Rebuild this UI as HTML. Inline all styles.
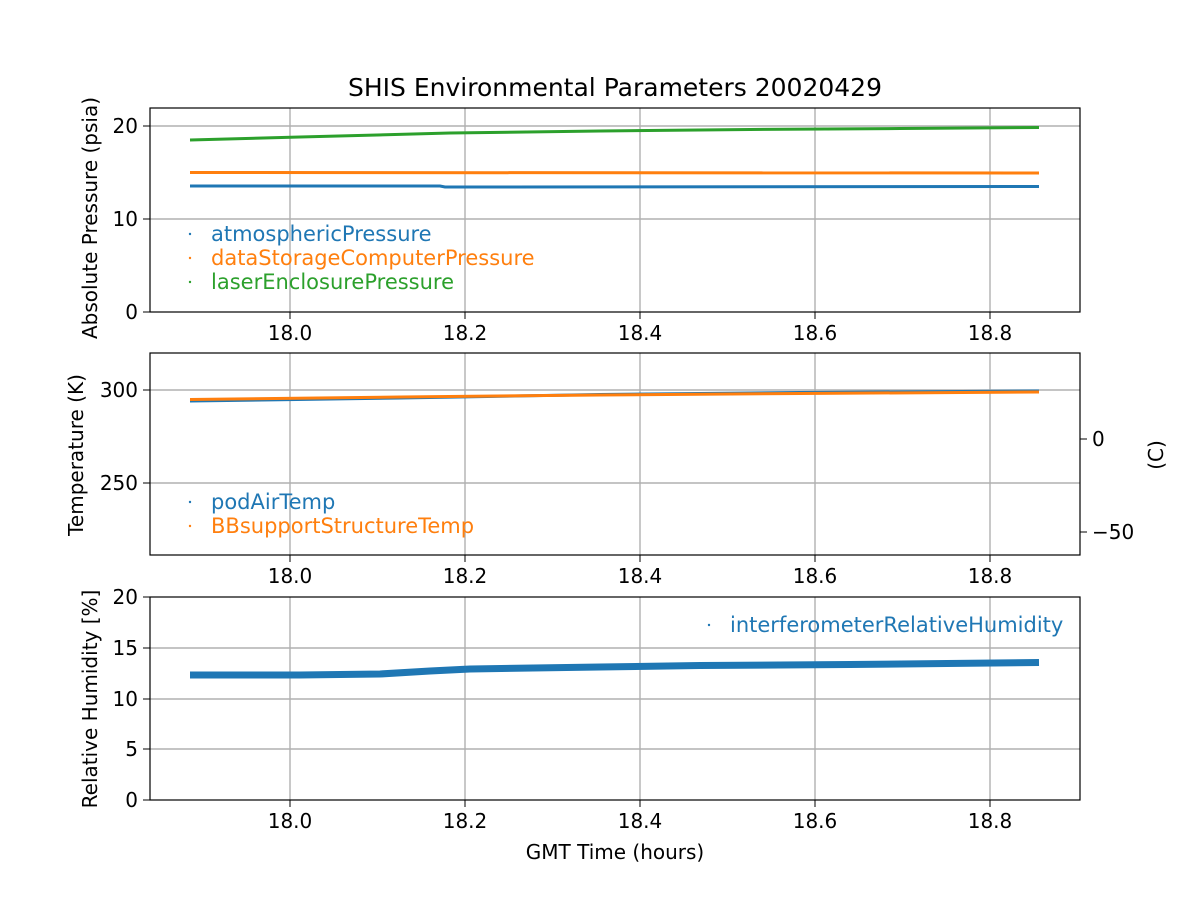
<!DOCTYPE html>
<html><head><meta charset="utf-8"><style>body{margin:0;background:#fff}svg{display:block}text{font-family:"DejaVu Sans","Liberation Sans",sans-serif;fill:#000}</style></head>
<body>
<svg width="1200" height="900" viewBox="0 0 1200 900" xmlns="http://www.w3.org/2000/svg">
<rect width="1200" height="900" fill="#fff"/>
<text x="615" y="96" font-size="25" text-anchor="middle">SHIS Environmental Parameters 20020429</text>

<!-- Panel 1 -->
<g stroke="#b0b0b0" stroke-width="1.4">
<line x1="290" y1="108" x2="290" y2="312"/><line x1="465" y1="108" x2="465" y2="312"/><line x1="640" y1="108" x2="640" y2="312"/><line x1="815" y1="108" x2="815" y2="312"/><line x1="990" y1="108" x2="990" y2="312"/>
<line x1="150" y1="126" x2="1080" y2="126"/><line x1="150" y1="219" x2="1080" y2="219"/>
</g>
<polyline points="190,140 300,137 450,133 600,131 750,129.5 900,128.5 1039,127.5" fill="none" stroke="#2ca02c" stroke-width="3"/>
<polyline points="190,172.5 1039,173" fill="none" stroke="#ff7f0e" stroke-width="3"/>
<polyline points="190,186 440,186 445,187 1039,186.5" fill="none" stroke="#1f77b4" stroke-width="3"/>
<rect x="150" y="108" width="930" height="204" fill="none" stroke="#000" stroke-width="1.2"/>
<g stroke="#000"><line x1="143" y1="126" x2="150" y2="126"/><line x1="143" y1="219" x2="150" y2="219"/><line x1="143" y1="312" x2="150" y2="312"/>
<line x1="290" y1="312" x2="290" y2="319"/><line x1="465" y1="312" x2="465" y2="319"/><line x1="640" y1="312" x2="640" y2="319"/><line x1="815" y1="312" x2="815" y2="319"/><line x1="990" y1="312" x2="990" y2="319"/></g>
<g font-size="20" text-anchor="end"><text x="138" y="133">20</text><text x="138" y="226">10</text><text x="138" y="319">0</text></g>
<g font-size="20" text-anchor="middle"><text x="290" y="340">18.0</text><text x="465" y="340">18.2</text><text x="640" y="340">18.4</text><text x="815" y="340">18.6</text><text x="990" y="340">18.8</text></g>
<text transform="translate(97,218) rotate(-90)" font-size="20" text-anchor="middle">Absolute Pressure (psia)</text>
<g font-size="21"><circle cx="190" cy="234" r="1.2" fill="#1f77b4"/><text x="211" y="241" style="fill:#1f77b4">atmosphericPressure</text>
<circle cx="190" cy="258" r="1.2" fill="#ff7f0e"/><text x="211" y="265" style="fill:#ff7f0e">dataStorageComputerPressure</text>
<circle cx="190" cy="282" r="1.2" fill="#2ca02c"/><text x="211" y="289" style="fill:#2ca02c">laserEnclosurePressure</text></g>

<!-- Panel 2 -->
<g stroke="#b0b0b0" stroke-width="1.4">
<line x1="290" y1="353" x2="290" y2="555"/><line x1="465" y1="353" x2="465" y2="555"/><line x1="640" y1="353" x2="640" y2="555"/><line x1="815" y1="353" x2="815" y2="555"/><line x1="990" y1="353" x2="990" y2="555"/>
<line x1="150" y1="390" x2="1080" y2="390"/><line x1="150" y1="483" x2="1080" y2="483"/>
</g>
<polyline points="190,401 400,398 600,394.5 800,392.5 1039,391" fill="none" stroke="#1f77b4" stroke-width="3"/>
<polyline points="190,399.5 400,397 600,395 800,393.5 1039,392" fill="none" stroke="#ff7f0e" stroke-width="3"/>
<rect x="150" y="353" width="930" height="202" fill="none" stroke="#000" stroke-width="1.2"/>
<g stroke="#000"><line x1="143" y1="390" x2="150" y2="390"/><line x1="143" y1="483" x2="150" y2="483"/>
<line x1="1080" y1="439" x2="1087" y2="439"/><line x1="1080" y1="532" x2="1087" y2="532"/>
<line x1="290" y1="555" x2="290" y2="562"/><line x1="465" y1="555" x2="465" y2="562"/><line x1="640" y1="555" x2="640" y2="562"/><line x1="815" y1="555" x2="815" y2="562"/><line x1="990" y1="555" x2="990" y2="562"/></g>
<g font-size="20" text-anchor="end"><text x="138" y="397">300</text><text x="138" y="490">250</text></g>
<g font-size="20"><text x="1092" y="446">0</text><text x="1092" y="539">−50</text></g>
<g font-size="20" text-anchor="middle"><text x="290" y="583">18.0</text><text x="465" y="583">18.2</text><text x="640" y="583">18.4</text><text x="815" y="583">18.6</text><text x="990" y="583">18.8</text></g>
<text transform="translate(83,455) rotate(-90)" font-size="20" text-anchor="middle">Temperature (K)</text>
<text transform="translate(1163,455) rotate(-90)" font-size="20" text-anchor="middle">(C)</text>
<g font-size="21"><circle cx="190" cy="502" r="1.2" fill="#1f77b4"/><text x="211" y="509" style="fill:#1f77b4">podAirTemp</text>
<circle cx="190" cy="526" r="1.2" fill="#ff7f0e"/><text x="211" y="533" style="fill:#ff7f0e">BBsupportStructureTemp</text></g>

<!-- Panel 3 -->
<g stroke="#b0b0b0" stroke-width="1.4">
<line x1="290" y1="597" x2="290" y2="800"/><line x1="465" y1="597" x2="465" y2="800"/><line x1="640" y1="597" x2="640" y2="800"/><line x1="815" y1="597" x2="815" y2="800"/><line x1="990" y1="597" x2="990" y2="800"/>
<line x1="150" y1="648" x2="1080" y2="648"/><line x1="150" y1="699" x2="1080" y2="699"/><line x1="150" y1="749" x2="1080" y2="749"/>
</g>
<polyline points="190,675 300,675 380,674 430,671 470,669 600,667 700,665.5 850,664.5 1039,662.5" fill="none" stroke="#1f77b4" stroke-width="7"/>
<rect x="150" y="597" width="930" height="203" fill="none" stroke="#000" stroke-width="1.2"/>
<g stroke="#000"><line x1="143" y1="597" x2="150" y2="597"/><line x1="143" y1="648" x2="150" y2="648"/><line x1="143" y1="699" x2="150" y2="699"/><line x1="143" y1="749" x2="150" y2="749"/><line x1="143" y1="800" x2="150" y2="800"/>
<line x1="290" y1="800" x2="290" y2="807"/><line x1="465" y1="800" x2="465" y2="807"/><line x1="640" y1="800" x2="640" y2="807"/><line x1="815" y1="800" x2="815" y2="807"/><line x1="990" y1="800" x2="990" y2="807"/></g>
<g font-size="20" text-anchor="end"><text x="138" y="604">20</text><text x="138" y="655">15</text><text x="138" y="706">10</text><text x="138" y="756">5</text><text x="138" y="807">0</text></g>
<g font-size="20" text-anchor="middle"><text x="290" y="828">18.0</text><text x="465" y="828">18.2</text><text x="640" y="828">18.4</text><text x="815" y="828">18.6</text><text x="990" y="828">18.8</text></g>
<text transform="translate(97,699) rotate(-90)" font-size="20" text-anchor="middle">Relative Humidity [%]</text>
<text x="615" y="859" font-size="20" text-anchor="middle">GMT Time (hours)</text>
<g font-size="21"><circle cx="709" cy="625" r="1.2" fill="#1f77b4"/><text x="730" y="632" style="fill:#1f77b4">interferometerRelativeHumidity</text></g>
</svg>
</body></html>
